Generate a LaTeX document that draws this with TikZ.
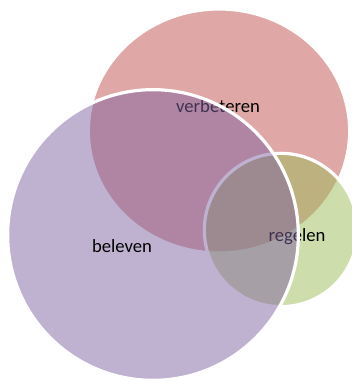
\documentclass[tikz,border=0pt]{standalone}
\usepackage{fontspec}
\setmainfont{Carlito}
\usetikzlibrary{shapes}
\usetikzlibrary{positioning}
\definecolor{setred}{HTML}{C0504D}
\definecolor{setpurple}{HTML}{8064A2}
\definecolor{setgreen}{HTML}{9BBB59}
\tikzset{
    setnode/.style = {inner sep=0pt, line width=2.4pt, draw=white, fill opacity=0.5},
    setnoder/.style = {setnode, ellipse, fill=setred, minimum width=196pt, minimum height=183pt},
    setnodeb/.style = {setnode, circle, fill=setpurple, minimum size=218pt},
    setnodeg/.style = {setnode, circle, fill=setgreen, minimum size=115pt},
    setlabel/.style = {font=\fontsize{14}{16}\selectfont, text=black, inner sep=0pt}
}

\begin{document}
\begin{tikzpicture}[x=0.75pt, y=-0.75pt]
\path[use as bounding box] (0,0) rectangle (352,381);
\node[setnoder] at (219,131) (verb) {};
\node[setnodeg] at (281,230) (reg) {};
\node[setlabel] at (218,106) (verbtext) {verbeteren};
\node[setlabel] at (297,237) (regtext) {regelen};
%
\node[setnodeb] at (153,235) (bel) {};
\node[setlabel] at (122,246) (beltext) {beleven};
\end{tikzpicture}
\end{document}
